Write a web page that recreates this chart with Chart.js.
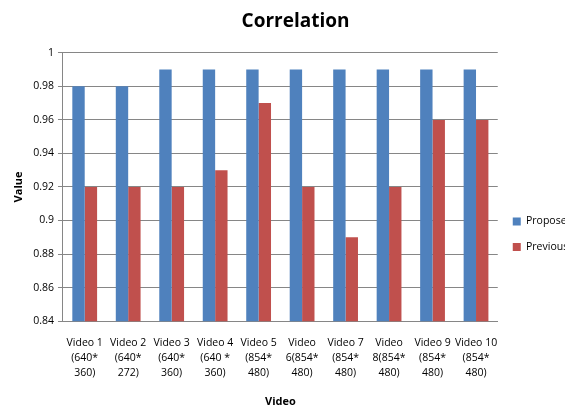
<!DOCTYPE html>
<html>
<head>
<meta charset="utf-8">
<script src="https://cdn.jsdelivr.net/npm/chart.js@4"></script>
<style>
  body { margin: 0; background: #fff; }
  #wrap { width: 565px; height: 408px; position: relative; }
</style>
</head>
<body>
<div id="wrap"><canvas id="chart" width="565" height="408"></canvas></div>
<script>
const categories = [
  ['Video 1', '(640*', '360)'],
  ['Video 2', '(640*', '272)'],
  ['Video 3', '(640*', '360)'],
  ['Video 4', '(640 *', '360)'],
  ['Video 5', '(854*', '480)'],
  ['Video', '6(854*', '480)'],
  ['Video 7', '(854*', '480)'],
  ['Video', '8(854*', '480)'],
  ['Video 9', '(854*', '480)'],
  ['Video 10', '(854*', '480)']
];
const proposed = [0.98, 0.98, 0.99, 0.99, 0.99, 0.99, 0.99, 0.99, 0.99, 0.99];
const previous = [0.92, 0.92, 0.92, 0.93, 0.97, 0.92, 0.89, 0.92, 0.96, 0.96];
const yTicks = [0.84, 0.86, 0.88, 0.9, 0.92, 0.94, 0.96, 0.98, 1];

const font = "'Open Sans', 'Liberation Sans', sans-serif";
Chart.defaults.font.family = font;
Chart.defaults.color = '#000';

new Chart(document.getElementById('chart').getContext('2d'), {
  type: 'bar',
  data: {
    labels: categories,
    datasets: [
      { label: 'Proposed', data: proposed, backgroundColor: '#4F81BD', barPercentage: 1, categoryPercentage: 0.57 },
      { label: 'Previous', data: previous, backgroundColor: '#C0504D', barPercentage: 1, categoryPercentage: 0.57 }
    ]
  },
  options: {
    responsive: false,
    animation: false,
    layout: { padding: { top: 6, right: -18, bottom: 0, left: 8 } },
    plugins: {
      title: {
        display: true,
        text: 'Correlation',
        font: { size: 19, weight: 'bold' },
        padding: { top: 4, bottom: 20 }
      },
      legend: {
        position: 'right',
        align: 'center',
        title: { display: true, text: '', padding: { top: 40, bottom: 0 } },
        labels: {
          boxWidth: 8,
          boxHeight: 8,
          padding: 15,
          font: { size: 10.5 }
        }
      },
      tooltip: { enabled: false }
    },
    scales: {
      x: {
        grid: { display: false, drawTicks: true },
        border: { color: '#868686' },
        ticks: { maxRotation: 0, autoSkip: false, font: { size: 10.5, lineHeight: 1.45 }, padding: 6 },
        title: { display: true, text: 'Video', font: { size: 11, weight: 'bold' }, padding: { top: 8, bottom: 0 } }
      },
      y: {
        min: 0.84,
        max: 1,
        afterBuildTicks: axis => { axis.ticks = yTicks.map(v => ({ value: v })); },
        ticks: { callback: v => String(+v.toFixed(2)), font: { size: 10.5 }, padding: 4 },
        grid: { color: '#868686', tickLength: 5 },
        border: { color: '#868686' },
        title: { display: true, text: 'Value', font: { size: 11, weight: 'bold' } }
      }
    }
  }
});
</script>
</body>
</html>
